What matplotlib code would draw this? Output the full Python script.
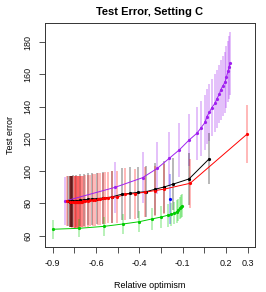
import numpy as np
import matplotlib
matplotlib.use("Agg")
import matplotlib.pyplot as plt

plt.rcParams['font.family'] = ['Liberation Sans', 'DejaVu Sans']

# x positions are in axis units (one unit per tick), tick labels below
tick_pos = [0, 1, 2, 3, 4, 5, 6, 7, 8, 9]
tick_lab = ["-0.9", "", "-0.6", "", "-0.4", "", "-0.1", "", "0.2", "0.3"]
ytick_vals = [60, 80, 100, 120, 140, 160, 180]

purple_x = [0.57, 2.88, 4.15, 4.83, 5.38, 5.84, 6.30, 6.65, 6.83, 7.03, 7.11, 7.23,
            7.34, 7.49, 7.57, 7.69, 7.75, 7.85, 7.95, 8.02, 8.09, 8.14, 8.18]
purple_y = [81.5, 90.0, 96.0, 101.8, 108.0, 113.2, 119.4, 123.5, 126.6, 130.3, 133.8, 136.5,
            139.4, 142.1, 144.8, 147.7, 150.4, 152.9, 155.2, 158.5, 162.0, 164.5, 167.0]
purple_e = [15, 16, 16, 16, 16.5, 16.5, 16, 16.5, 17, 17, 17, 17.5,
            17.5, 18, 18, 18, 18.5, 18.5, 19, 19, 19, 19.5, 19.5]

black_x = [0.72, 0.80, 0.82, 0.84, 0.85, 0.86, 0.87, 0.88, 0.89, 0.94, 1.08, 1.26, 1.44,
           1.63, 1.81, 2.03, 2.34, 2.72, 3.18, 3.57, 3.95, 4.31, 4.72, 5.14, 5.54, 6.29, 7.23]
black_y = [81.5, 81.2, 81.2, 81.2, 81.2, 81.3, 81.3, 81.3, 81.3, 81.5, 81.7, 82.0, 82.3,
           82.6, 82.8, 83.0, 83.4, 84.0, 85.7, 86.3, 86.9, 87.3, 88.8, 90.2, 91.9, 95.2, 107.8]
black_e = [15.5, 16, 16, 16, 16, 16, 16, 16, 16, 16, 16, 16, 16,
           16, 16, 16, 16, 16, 16, 16, 16, 16, 16, 16, 16, 16, 16]

red_x = [0.65, 0.80, 0.89, 0.98, 1.01, 1.05, 1.08, 1.12, 1.15, 1.19, 1.22, 1.26, 1.29,
         1.33, 1.40, 1.49, 1.61, 1.72, 1.84, 1.95, 2.07, 2.18, 2.30, 2.41, 2.55, 2.72,
         2.98, 3.34, 3.80, 4.26, 4.72, 5.15, 6.34, 8.98]
red_y = [81.5, 81.2, 81.0, 80.9, 80.9, 80.9, 80.9, 80.9, 81.0, 81.0, 81.0, 81.0, 81.1,
         81.1, 81.3, 81.5, 81.7, 81.9, 82.1, 82.3, 82.6, 82.8, 83.1, 83.3, 83.6, 83.9,
         84.0, 85.7, 86.1, 87.0, 88.0, 88.9, 92.5, 123.1]
red_e = [15.5, 16, 16, 16, 16, 16, 16, 16, 16, 16, 16, 16, 16,
         16, 16, 16, 16, 16, 16, 16, 16, 16, 16, 16, 16, 16,
         16, 16, 15.5, 15.5, 15.5, 15.5, 15.3, 18]

green_x = [0.0, 1.23, 2.37, 3.26, 4.00, 4.58, 5.01, 5.31, 5.45, 5.60, 5.72, 5.80,
           5.87, 5.93, 5.98]
green_y = [64.0, 64.6, 65.8, 67.3, 68.7, 70.4, 71.6, 72.7, 73.2, 74.0, 74.9, 76.0,
           77.2, 78.0, 78.7]
green_e = [5.8, 5.7, 6, 6, 6.5, 7, 7, 7, 7, 7, 7, 7, 7, 7, 7]

blue_x = [5.41]
blue_y = [82.8]
blue_e = [15.5]

series = [
    (purple_x, purple_y, purple_e, "#A020F0"),
    (black_x, black_y, black_e, "#000000"),
    (red_x, red_y, red_e, "#FF0000"),
    (green_x, green_y, green_e, "#00CD00"),
    (blue_x, blue_y, blue_e, "#0000FF"),
]

fig = plt.figure(figsize=(2.66, 2.92), dpi=100)
ax = fig.add_axes([45 / 266, 1 - 247 / 292, 210 / 266, 224 / 292])

for xs, ys, es, c in series:
    xs = np.array(xs)
    ys = np.array(ys)
    es = np.array(es)
    ax.vlines(xs, ys - es, ys + es, colors=c, alpha=0.3, lw=1.3, zorder=1)

for xs, ys, es, c in series:
    ax.plot(xs, ys, "-", color=c, lw=0.7, zorder=3)
    ax.plot(xs, ys, "o", color=c, ms=2.3, mew=0, zorder=4)

ax.set_xlim(-0.355, 9.336)
ax.set_ylim(53.0, 191.9)
ax.set_xticks(tick_pos)
ax.set_xticklabels(tick_lab)
ax.set_yticks(ytick_vals)
ax.set_yticklabels([str(v) for v in ytick_vals], rotation=90, va="center")
ax.tick_params(labelsize=6.5, length=4, width=0.6, pad=5, color="#333333", labelcolor="#111111")
for s in ax.spines.values():
    s.set_linewidth(0.7)
    s.set_color("#333333")

ax.set_title("Test Error, Setting C", fontsize=8, fontweight="bold", pad=6)
ax.set_xlabel("Relative optimism", fontsize=6.5, labelpad=9)
ax.set_ylabel("Test error", fontsize=6.5, labelpad=6)

fig.savefig("out.png", dpi=100)
